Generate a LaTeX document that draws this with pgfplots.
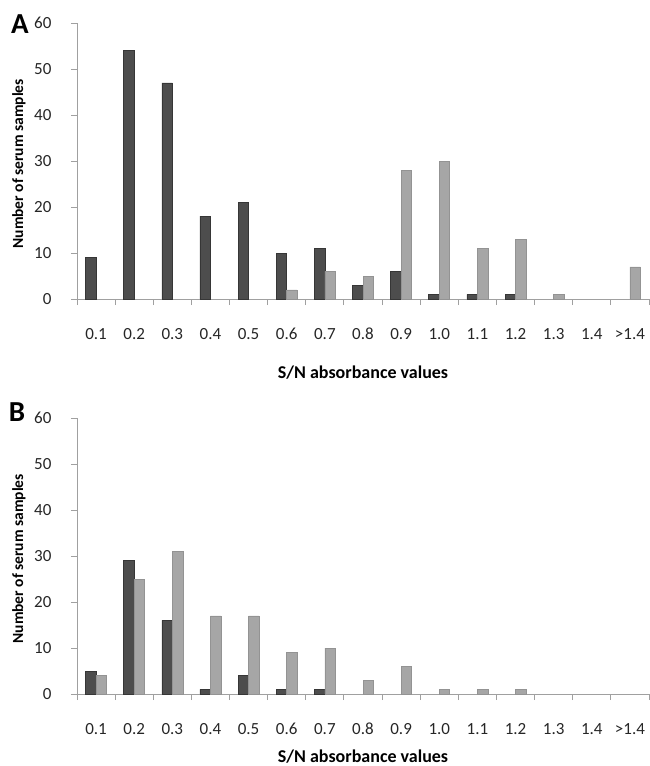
\documentclass[border=0pt]{standalone}
\usepackage{fontspec}
\setmainfont{Carlito}
\usepackage{pgfplots}
\pgfplotsset{compat=1.18}
\definecolor{darkbar}{HTML}{4D4D4D}
\definecolor{darkedge}{HTML}{363636}
\definecolor{lightbar}{HTML}{A6A6A6}
\definecolor{lightedge}{HTML}{939393}
\definecolor{axisgray}{HTML}{A0A0A0}
\definecolor{ticktext}{HTML}{262626}
\pgfplotsset{
  panel/.style={
    scale only axis, width=572bp, height=276bp,
    xmin=-0.5, xmax=14.5, ymin=0, ymax=60,
    axis x line*=bottom, axis y line*=left,
    axis line style={axisgray, line width=0.9bp},
    xtick={-0.5,0.5,1.5,2.5,3.5,4.5,5.5,6.5,7.5,8.5,9.5,10.5,11.5,12.5,13.5},
    xticklabels={0.1,0.2,0.3,0.4,0.5,0.6,0.7,0.8,0.9,1.0,1.1,1.2,1.3,1.4,>1.4},
    extra x ticks={14.5}, extra x tick labels={},
    ytick={0,10,...,60},
    tick align=outside,
    major tick length=6bp,
    tick style={axisgray, line width=0.9bp},
    /pgf/number format/assume math mode=true,
    ticklabel style={font=\fontsize{17bp}{20bp}\selectfont, text=ticktext},
    xticklabel style={anchor=center, xshift=19.07bp, yshift=-29bp},
    yticklabel style={anchor=east, xshift=-16bp},
    xlabel style={font=\fontsize{18bp}{21bp}\selectfont\bfseries, text=black},
    ylabel style={font=\fontsize{15.5bp}{18bp}\selectfont\bfseries, text=black,
      at={(axis description cs:-0.1014,0.49)}, anchor=center},
    xlabel={S/N absorbance values},
    ylabel={Number of serum samples},
    clip=false,
  },
  darkbars/.style={ybar, bar width=10.5bp, bar shift=-5.25bp, fill=darkbar, draw=darkedge, line width=0.6bp},
  lightbars/.style={ybar, bar width=10.5bp, bar shift=5.25bp, fill=lightbar, draw=lightedge, line width=0.6bp},
}
\begin{document}
\begin{tikzpicture}
\begin{axis}[panel, at={(77bp,-299bp)}, anchor=south west,
  xlabel style={at={(axis description cs:0.5,-0.268)}, anchor=center}]
\addplot[darkbars] coordinates {(0,9) (1,54) (2,47) (3,18) (4,21) (5,10) (6,11) (7,3) (8,6) (9,1) (10,1) (11,1)};
\addplot[lightbars] coordinates {(5,2) (6,6) (7,5) (8,28) (9,30) (10,11) (11,13) (12,1) (14,7)};
\end{axis}
\begin{axis}[panel, at={(77bp,-694bp)}, anchor=south west,
  xlabel style={at={(axis description cs:0.5,-0.225)}, anchor=center}]
\addplot[darkbars] coordinates {(0,5) (1,29) (2,16) (3,1) (4,4) (5,1) (6,1)};
\addplot[lightbars] coordinates {(0,4) (1,25) (2,31) (3,17) (4,17) (5,9) (6,10) (7,3) (8,6) (9,1) (10,1) (11,1)};
\end{axis}
\node[font=\fontsize{29bp}{30bp}\selectfont\bfseries] at (20bp,-24bp) {A};
\node[font=\fontsize{29bp}{30bp}\selectfont\bfseries] at (17bp,-412bp) {B};
\pgfresetboundingbox
\path[use as bounding box] (0,0) rectangle (650bp,-766bp);
\end{tikzpicture}
\end{document}
